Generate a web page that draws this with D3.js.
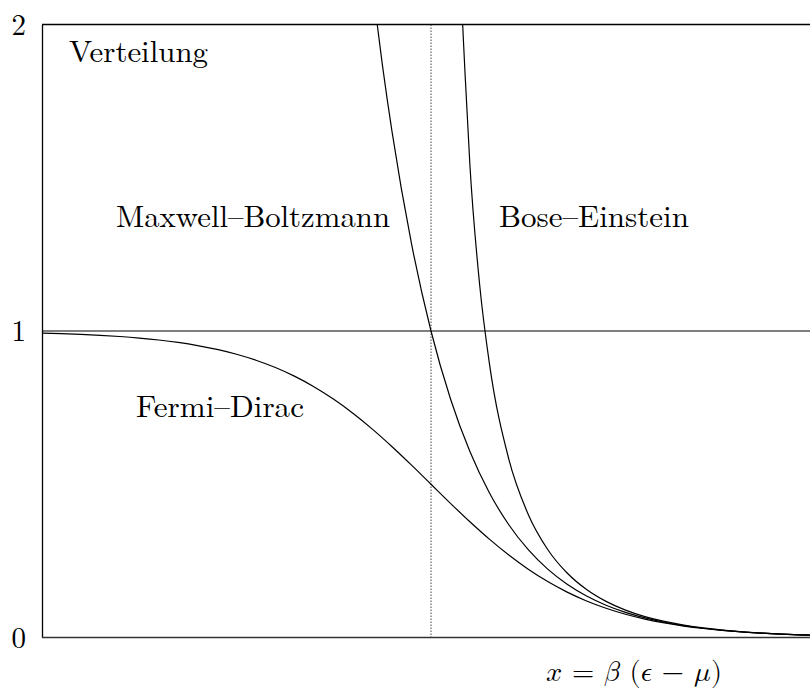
<!DOCTYPE html>
<html>
<head>
<meta charset="utf-8">
<script src="https://cdn.jsdelivr.net/npm/d3@7"></script>
<style>
  html, body { margin: 0; padding: 0; background: #fff; }
  svg { display: block; }
</style>
</head>
<body>
<svg id="chart" width="810" height="688"></svg>
<script>
// Occupation numbers versus x = β(ε − μ)
const xFD = [-5, -4.75, -4.5, -4.25, -4, -3.75, -3.5, -3.25, -3, -2.75, -2.5, -2.25, -2, -1.75, -1.5, -1.25, -1, -0.75, -0.5, -0.25,
             0, 0.25, 0.5, 0.75, 1, 1.25, 1.5, 1.75, 2, 2.25, 2.5, 2.75, 3, 3.25, 3.5, 3.75, 4, 4.25, 4.5, 4.75, 5];
const yFD = [0.99331, 0.99142, 0.98901, 0.98594, 0.98201, 0.97702, 0.97069, 0.96267, 0.95257, 0.93991, 0.92414, 0.90465, 0.88080,
             0.85195, 0.81757, 0.77730, 0.73106, 0.67918, 0.62246, 0.56218, 0.5, 0.43782, 0.37754, 0.32082, 0.26894, 0.22270,
             0.18243, 0.14805, 0.11920, 0.09535, 0.07586, 0.06009, 0.04743, 0.03733, 0.02931, 0.02298, 0.01799, 0.01406,
             0.01099, 0.00858, 0.00669];

const xMB = [-1, -0.875, -0.75, -0.625, -0.5, -0.25, 0, 0.25, 0.5, 0.75, 1, 1.25, 1.5, 1.75, 2, 2.25, 2.5, 2.75, 3, 3.25, 3.5,
             3.75, 4, 4.25, 4.5, 4.75, 5];
const yMB = [2.71828, 2.39888, 2.11700, 1.86825, 1.64872, 1.28403, 1, 0.77880, 0.60653, 0.47237, 0.36788, 0.28650, 0.22313,
             0.17377, 0.13534, 0.10540, 0.08208, 0.06393, 0.04979, 0.03877, 0.03020, 0.02352, 0.01832, 0.01426, 0.01111,
             0.00865, 0.00674];

const xBE = [0.25, 0.3125, 0.375, 0.4375, 0.5, 0.625, 0.75, 1, 1.25, 1.5, 1.75, 2, 2.25, 2.5, 2.75, 3, 3.25, 3.5, 3.75, 4, 4.25,
             4.5, 4.75, 5];
const yBE = [3.52082, 2.74966, 2.19787, 1.84062, 1.54149, 1.15175, 0.89525, 0.58198, 0.40155, 0.28722, 0.21032, 0.15652,
             0.11782, 0.08943, 0.06829, 0.05240, 0.04034, 0.03114, 0.02408, 0.01866, 0.01447, 0.01123, 0.00873, 0.00678];

const yTicks = [0, 1, 2];
const yTickLabels = ["0", "1", "2"];
const curveNames = ["Maxwell–Boltzmann", "Bose–Einstein", "Fermi–Dirac"];
const yTitle = "Verteilung";
const xTitleParts = ["𝑥", "=", "𝛽", "(𝜖", "−", "𝜇)"];

const serif = '"Latin Modern Roman"';
const svg = d3.select("#chart");
const plotLeft = 42, plotRight = 820, plotTop = 24.5, plotBottom = 637.5;

const x = d3.scaleLinear().domain([-5, 5]).range([plotLeft, plotRight]);
const y = d3.scaleLinear().domain([0, 2]).range([plotBottom, plotTop]);

svg.append("rect").attr("width", 810).attr("height", 688).attr("fill", "#fff");

svg.append("defs").append("clipPath").attr("id", "plot-clip")
  .append("rect").attr("x", plotLeft).attr("y", plotTop)
  .attr("width", plotRight - plotLeft).attr("height", plotBottom - plotTop);

const plot = svg.append("g").attr("clip-path", "url(#plot-clip)");

// reference lines: n = 1 and x = 0
plot.append("line")
  .attr("x1", plotLeft).attr("x2", plotRight).attr("y1", y(1)).attr("y2", y(1))
  .attr("stroke", "#000").attr("stroke-width", 1.1);
plot.append("line")
  .attr("x1", x(0)).attr("x2", x(0)).attr("y1", plotTop).attr("y2", plotBottom)
  .attr("stroke", "#444").attr("stroke-width", 1).attr("stroke-dasharray", "1.5,1.5");

const line = d3.line().x(d => x(d[0])).y(d => y(d[1])).curve(d3.curveMonotoneX);
const series = [[xFD, yFD], [xMB, yMB], [xBE, yBE]];
series.forEach(([xs, ys]) => {
  plot.append("path")
    .datum(xs.map((v, i) => [v, ys[i]]))
    .attr("d", line)
    .attr("fill", "none")
    .attr("stroke", "#000")
    .attr("stroke-width", 1.2);
});

// frame: left axis, top border, baseline
const axisY = d3.axisLeft(y).tickValues(yTicks).tickFormat((d, i) => yTickLabels[i]).tickSize(0).tickPadding(16);
const gy = svg.append("g").attr("transform", `translate(${plotLeft},0)`).call(axisY);
gy.select(".domain").attr("stroke", "#000").attr("stroke-width", 1.3);
gy.selectAll("text").style("font-family", serif).style("font-size", "29px").attr("dy", "0.33em").attr("fill", "#000");

svg.append("line").attr("x1", plotLeft).attr("x2", 810).attr("y1", plotTop).attr("y2", plotTop)
  .attr("stroke", "#000").attr("stroke-width", 1.3);
svg.append("line").attr("x1", plotLeft).attr("x2", 810).attr("y1", plotBottom).attr("y2", plotBottom)
  .attr("stroke", "#333").attr("stroke-width", 1.5);

// labels
function label(txt, px, py, width) {
  svg.append("text").attr("x", px).attr("y", py)
    .style("font-family", serif).style("font-size", "30.5px")
    .attr("textLength", width).attr("lengthAdjust", "spacingAndGlyphs").text(txt);
}
label(yTitle, 69, 62, 139);
label(curveNames[0], 116, 227, 274);
label(curveNames[1], 499, 227, 190);
label(curveNames[2], 136, 417, 168);

// x-axis title: x = β (ϵ − μ), math italic letters
const xt = svg.append("text").attr("x", 546).attr("y", 681)
  .style("font-family", '"Latin Modern Math"').style("font-size", "28.5px")
  .attr("textLength", 176).attr("lengthAdjust", "spacing");
xTitleParts.forEach((s, i) => xt.append("tspan").text((i > 0 ? " " : "") + s));
</script>
</body>
</html>
